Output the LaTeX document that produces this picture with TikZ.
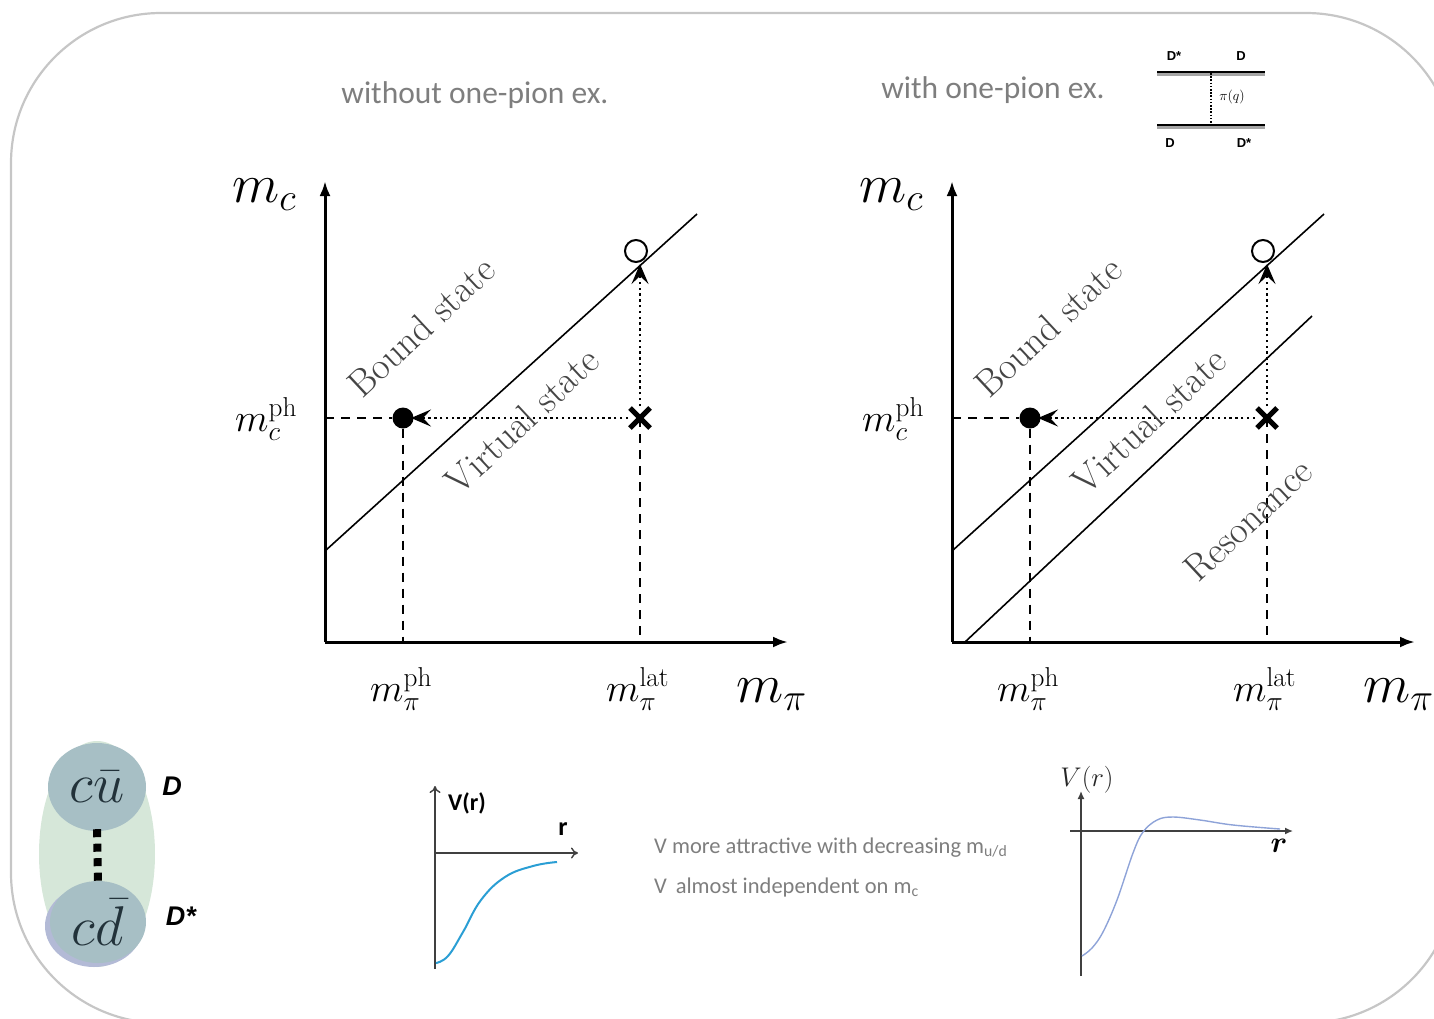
\RequirePackage{fix-cm}
\documentclass[tikz,border=0pt]{standalone}
\usepackage{fontspec}
\setsansfont{Carlito}
\newfontfamily\labelfont{Liberation Sans}
\usetikzlibrary{arrows.meta,calc,shapes.geometric}

\definecolor{framegray}{HTML}{C6C6C6}
\definecolor{captiongray}{HTML}{7E7E7E}
\definecolor{regiongray}{HTML}{454545}
\definecolor{moleculegreen}{HTML}{D6E7D9}
\definecolor{mesonteal}{HTML}{A7BFC5}
\definecolor{mesonlilac}{HTML}{B3BAD6}
\definecolor{quarkink}{HTML}{22323A}
\definecolor{yukawablue}{HTML}{2A9ED4}
\definecolor{opeblue}{HTML}{8EA3D8}

\tikzset{
  axis/.style={line width=3pt, -{Latex[length=15pt,width=11pt]}},
  boundary/.style={line width=1.6pt},
  guide/.style={line width=1.7pt, dash pattern=on 9pt off 7pt},
  flow/.style={line width=2pt, dash pattern=on 2.4pt off 3.4pt,
               -{Stealth[length=20pt,width=17pt,inset=8pt]}},
  biglabel/.style={inner sep=0pt, font=\fontsize{55}{60}\selectfont},
  ticklabel/.style={inner sep=0pt, font=\fontsize{39}{42}\selectfont},
  region/.style={inner sep=0pt, text=regiongray, font=\fontsize{38}{40}\selectfont, rotate=43},
  caption/.style={inner sep=0pt, text=captiongray, font=\sffamily\fontsize{31.5}{34}\selectfont},
  note/.style={inner sep=0pt, anchor=base west, text=captiongray, font=\sffamily\fontsize{22.5}{24}\selectfont},
  feyn/.style={inner sep=0pt, font=\labelfont\bfseries\fontsize{13}{14}\selectfont},
  potaxis/.style={line width=1.4pt, draw=black!75},
}

% common part of one phase diagram (axes, markers, flow arrows)
\newcommand{\phasecore}{%
  \coordinate (O) at (325,642);
  \coordinate (ytop) at (325,181);
  \coordinate (xend) at (788,642);
  \coordinate (cph) at (325,418);
  \coordinate (xph) at (403,642);
  \coordinate (xlat) at (640,642);
  \coordinate (tipv) at (640,264);
  \coordinate (tiph) at (411,418);
  \node[circle, fill=black, minimum size=21pt, inner sep=0pt] (phys) at (403,418) {};
  \node[circle, draw=black, line width=2pt, fill=white, minimum size=22pt, inner sep=0pt] (lat) at (636,251) {};
  \coordinate (latpt) at (640,418);
  \draw[axis] (O) -- (ytop);
  \draw[axis] (O) -- (xend);
  \draw[guide] (cph) -- (phys.west);
  \draw[guide] (phys.south) -- (xph);
  \draw[guide] (latpt) -- (xlat);
  \draw[flow] ($(latpt)+(-12,0)$) -- (tiph);
  \draw[flow] ($(latpt)+(0,-12)$) -- (tipv);
  \draw[line width=5pt] ($(latpt)+(-10,-10)$) -- ($(latpt)+(10,10)$)
                        ($(latpt)+(-10,10)$) -- ($(latpt)+(10,-10)$);
  \coordinate (b1) at (325,551);
  \coordinate (b2) at (697,214);
  \draw[boundary] (b1) -- (b2);
  \node[biglabel, anchor=base west] (mc) at (232,202) {$m_c$};
  \node[biglabel, anchor=base west] (mpi) at (736,702) {$m_\pi$};
  \node[ticklabel, anchor=base west] (mcph) at (235,431) {$m_c^{\mathrm{ph}}$};
  \node[ticklabel, anchor=base west] (mpiph) at (370,701) {$m_\pi^{\mathrm{ph}}$};
  \node[ticklabel, anchor=base west] (mpilat) at (606,701) {$m_\pi^{\mathrm{lat}}$};
  \node[region] (bound) at (421,327) {Bound state};
  \node[region] (virt) at (522,421) {Virtual state};
}

\begin{document}
\begin{tikzpicture}[x=1pt,y=-1pt]
\useasboundingbox (0,0) rectangle (1434,1018);
\clip (0,0) rectangle (1434,1018);

% outer frame
\draw[framegray, line width=2.2pt, rounded corners=150pt] (11,13) rectangle (1456,1023);

% top captions
\node[caption] (capL) at (475,95) {without one-pion ex.};
\node[caption] (capR) at (993,90) {with one-pion ex.};

% one-pion exchange sketch
\coordinate (ftl) at (1157,72);
\coordinate (ftr) at (1265,72);
\coordinate (fbl) at (1157,125);
\coordinate (fbr) at (1265,125);
\coordinate (ft) at (1211,73);
\coordinate (fb) at (1211,124);
\draw[black!35, line width=3.5pt] ($(ftl)+(0,2)$) -- ($(ftr)+(0,2)$);
\draw[black!35, line width=3.5pt] ($(fbl)+(0,2)$) -- ($(fbr)+(0,2)$);
\draw[line width=2.2pt] (ftl) -- (ftr);
\draw[line width=2.2pt] (fbl) -- (fbr);
\draw[line width=1.6pt, dash pattern=on 1.6pt off 1.6pt] (ft) -- (fb);
\node[inner sep=0pt, font=\fontsize{14}{16}\selectfont] (piq) at (1232,97) {$\pi(q)$};
\node[feyn] (fd1) at (1174,56) {D*};
\node[feyn] (fd2) at (1241,56) {D};
\node[feyn] (fd3) at (1170,143) {D};
\node[feyn] (fd4) at (1244,143) {D*};

% left phase diagram
\begin{scope}[name prefix=L-]
  \phasecore
\end{scope}

% right phase diagram
\begin{scope}[name prefix=R-, xshift=627pt]
  \phasecore
  \coordinate (r1) at (338,642);
  \coordinate (r2) at (685,316);
  \draw[boundary] (r1) -- (r2);
  \node[region] (reson) at (621,520) {Resonance};
\end{scope}

% molecule picture
\node[ellipse, fill=moleculegreen, minimum width=116pt, minimum height=226pt, inner sep=0pt] (mol) at (97,854) {};
\node[ellipse, fill=mesonlilac, minimum width=98pt, minimum height=82pt, inner sep=0pt] (cdshade) at (94,926) {};
\node[ellipse, fill=mesonteal, minimum width=96pt, minimum height=82pt, inner sep=0pt,
      text=quarkink, font=\fontsize{56}{58}\selectfont] (cd) at (98,922) {$c\bar{d}$};
\node[ellipse, fill=mesonteal, minimum width=98pt, minimum height=88pt, inner sep=0pt,
      text=quarkink, font=\fontsize{56}{58}\selectfont] (cu) at (97,787) {$c\bar{u}$};
\draw[line width=8pt, dash pattern=on 8pt off 6.5pt] ($(cu.south)+(0,-2)$) -- ($(cd.north)+(0,4)$);
\node[inner sep=0pt, font=\labelfont\bfseries\itshape\fontsize{27}{30}\selectfont] (lD) at (172,786) {D};
\node[inner sep=0pt, font=\labelfont\bfseries\itshape\fontsize{27}{30}\selectfont] (lDs) at (181,916) {D*};

% attractive potential without pion exchange
\coordinate (pa0) at (435,853);
\coordinate (pabot) at (435,969);
\coordinate (patop) at (435,786);
\coordinate (paend) at (578,853);
\draw[potaxis, -{To[length=7pt,width=11pt]}] (pabot) -- (patop);
\draw[potaxis, -{To[length=7pt,width=11pt]}] (pa0) -- (paend);
\draw[yukawablue, line width=2pt] plot[smooth, tension=0.7] coordinates
  {(436,963) (448,956) (463,932) (481,900) (505,877) (533,866) (557,862)};
\node[inner sep=0pt, font=\sffamily\bfseries\fontsize{24}{26}\selectfont] (vr1) at (467,803) {V(r)};
\node[inner sep=0pt, font=\sffamily\bfseries\fontsize{26}{28}\selectfont] (r1) at (563,829) {r};

% remarks
\node[note] (n1) at (654,853) {V more attractive with decreasing m\textsubscript{u/d}};
\node[note] (n2) at (654,893) {V\, almost independent on m\textsubscript{c}};

% potential with pion exchange
\coordinate (pb0) at (1070,831);
\coordinate (pbend) at (1293,831);
\coordinate (pbbot) at (1081,976);
\coordinate (pbtop) at (1081,791);
\draw[potaxis, -{Latex[length=8pt,width=7pt]}] (pbbot) -- (pbtop);
\draw[potaxis, -{Latex[length=8pt,width=7pt]}] (pb0) -- (pbend);
\draw[opeblue, line width=1.4pt] plot[smooth, tension=0.6] coordinates
  {(1082,956) (1092,948) (1103,932) (1117,900) (1133,853) (1143,832) (1157,820) (1173,817) (1200,820) (1233,825) (1280,829)};
\node[inner sep=0pt, text=black!85, font=\fontsize{27}{29}\selectfont] (vr2) at (1087,780) {$V(r)$};
\node[inner sep=0pt, font=\fontsize{30}{32}\selectfont\boldmath] (r2) at (1279,846) {$r$};
\end{tikzpicture}
\end{document}
